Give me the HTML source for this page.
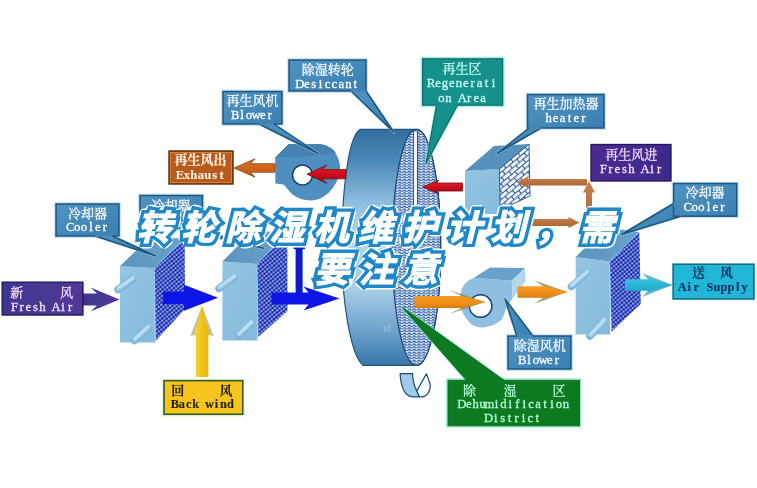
<!DOCTYPE html>
<html lang="zh-CN">
<head>
<meta charset="utf-8">
<title>转轮除湿机维护计划，需要注意</title>
<style>
html,body{margin:0;padding:0;background:#fff;}
body{width:757px;height:488px;overflow:hidden;font-family:"Liberation Sans",sans-serif;}
svg{display:block;}
</style>
</head>
<body>
<svg width="757" height="488" viewBox="0 0 757 488" font-family="'Liberation Serif', serif" role="img" aria-label="转轮除湿机维护计划，需要注意">
<defs>
<filter id="soft" x="-2%" y="-2%" width="104%" height="104%"><feGaussianBlur stdDeviation="0.55"/></filter>
<filter id="soft2" x="-5%" y="-5%" width="110%" height="110%"><feGaussianBlur stdDeviation="0.35"/></filter>
<linearGradient id="gBlue" x1="0" y1="0" x2="1" y2="1"><stop offset="0" stop-color="#4f93c2"/><stop offset="1" stop-color="#3a7fb0"/></linearGradient>
<linearGradient id="gPurple" x1="0" y1="0" x2="1" y2="0"><stop offset="0" stop-color="#403690"/><stop offset="1" stop-color="#523897"/></linearGradient>
<linearGradient id="gPurple2" x1="0" y1="0" x2="1" y2="0"><stop offset="0" stop-color="#4b2a92"/><stop offset="1" stop-color="#3d2a8c"/></linearGradient>
<linearGradient id="gRim" x1="0" y1="0" x2="0" y2="1">
 <stop offset="0" stop-color="#336e9e"/><stop offset=".13" stop-color="#4a87b8"/><stop offset=".3" stop-color="#8bbbde"/><stop offset=".45" stop-color="#b1d5ec"/><stop offset=".68" stop-color="#a6cce6"/><stop offset=".85" stop-color="#6ea3cc"/><stop offset="1" stop-color="#3876a8"/></linearGradient>
<linearGradient id="gFront" x1="0" y1="0" x2="1" y2="1"><stop offset="0" stop-color="#93c6e3"/><stop offset="1" stop-color="#86badb"/></linearGradient>
<linearGradient id="gTop" x1="0" y1="0" x2="1" y2="0"><stop offset="0" stop-color="#5a95bf"/><stop offset="1" stop-color="#69a1c9"/></linearGradient>
<linearGradient id="gRed" x1="0" y1="0" x2="0" y2="1"><stop offset="0" stop-color="#e0202c"/><stop offset=".5" stop-color="#d0101c"/><stop offset="1" stop-color="#8c0a12"/></linearGradient>
<linearGradient id="gOrange" x1="0" y1="0" x2="0" y2="1"><stop offset="0" stop-color="#f6a02a"/><stop offset=".6" stop-color="#f08c14"/><stop offset="1" stop-color="#c9780f"/></linearGradient>
<linearGradient id="gExh" x1="0" y1="0" x2="0" y2="1"><stop offset="0" stop-color="#da7024"/><stop offset="1" stop-color="#c05a18"/></linearGradient>
<linearGradient id="gYellow" x1="0" y1="0" x2="1" y2="0"><stop offset="0" stop-color="#f5d23a"/><stop offset=".5" stop-color="#f2c418"/><stop offset="1" stop-color="#e3b410"/></linearGradient>
<linearGradient id="gBrown" x1="0" y1="0" x2="0" y2="1"><stop offset="0" stop-color="#c98250"/><stop offset="1" stop-color="#a85f2c"/></linearGradient>
<linearGradient id="gCyan" x1="0" y1="0" x2="0" y2="1"><stop offset="0" stop-color="#3cc4e0"/><stop offset="1" stop-color="#1aa6c8"/></linearGradient>
<pattern id="pMesh" width="3.15" height="3.15" patternUnits="userSpaceOnUse" patternTransform="rotate(-40)">
 <rect width="3.15" height="3.15" fill="#b4caff"/>
 <circle cx="1.575" cy="1.575" r="1.46" fill="#0a1a9c"/><circle cx="1.45" cy="1.1" r=".5" fill="#3352dc"/>
</pattern>
<pattern id="pWave" width="4.8" height="2.7" patternUnits="userSpaceOnUse">
 <rect width="4.8" height="2.7" fill="#dfedf9"/>
 <path d="M0 1.85 Q1.2 .1 2.4 1.85 T4.8 1.85" fill="none" stroke="#1c4a96" stroke-width="1.1"/>
</pattern>
<pattern id="pBrick" width="9.4" height="8.4" patternUnits="userSpaceOnUse" patternTransform="rotate(-40)">
 <rect width="9.4" height="8.4" fill="#f2f8fd"/>
 <path d="M0 .5H9.4M0 4.7H9.4M2.3 .5V4.7M7 4.7V8.9" fill="none" stroke="#1d4a8c" stroke-width="1"/>
</pattern>
</defs>
<rect width="757" height="488" fill="#fff"/>
<g filter="url(#soft)">
<path d="M416.5 129.4 L360 129.4 C351 134.4 343 170 341.3 247.4 C342 300 350 354 363 365.4 L416.5 365.4 A24.2 118 0 0 0 416.5 129.4Z" fill="url(#gRim)" stroke="#1f5482" stroke-width="1.2"/>
<ellipse cx="416.5" cy="247.4" rx="24.2" ry="118" fill="url(#pWave)" stroke="#1b447a" stroke-width="1.2"/>
<rect x="413.6" y="130.9" width="3.8" height="118" fill="#fff" stroke="#1b447a" stroke-width=".9"/>
<text x="383" y="332" font-size="10" fill="#fff" opacity=".3" font-family="'Liberation Sans', sans-serif">xt</text>
<path d="M400.1 373.7 L412.6 373.7 C412.8 380 414 386 416.8 390.9 C417.5 393 418.5 395 419.5 396.8 L413 396.8 C405 396.5 401 388 400.1 373.7Z" fill="#9fcbe8" stroke="#1a4a70" stroke-width="1.2" stroke-linejoin="round"/>
<path d="M416.8 390.9 L426.4 373.8 C427.5 376.5 429 380 430 384 C431 390 428 396 422 396.9 L419.5 396.8 C418.5 395 417.5 393 416.8 390.9Z" fill="#f4fafe" stroke="#1a4a70" stroke-width="1.2" stroke-linejoin="round"/>
<path d="M275.2 157.6 L288.7 144 L318 144 C328 144.5 336 150 339.2 161.3 C341.5 170 339 181 330.6 190.8 C325 197 318 200.4 310.9 200.4 C302 200.4 295 197 291.2 193.3 L283.5 184.6 L275.4 183.4Z" fill="#4f8fc0"/>
<path d="M275.2 157.6 L288.7 144 L318 144 C326 144.5 332 147.5 336 153 L300 157.5Z" fill="#4582b2"/>
<circle cx="302.5" cy="175" r="10" fill="#fff" stroke="#17406e" stroke-width="1.5"/>
<polygon points="275,163.7 250.5,163.7 255,158.8 234,168 255,177.2 250.5,172.3 275,172.3" fill="url(#gExh)" stroke="#8a4514" stroke-width="0.8" stroke-linejoin="round" />
<polygon points="346,169.6 322,169.6 327,165 307,174.2 327,183.4 322,178.8 346,178.8" fill="url(#gRed)" stroke="#7d0c14" stroke-width="0.8" stroke-linejoin="round" />
<polygon points="462.5,183 436,183 439,180 422.5,187 439,194 436,191 462.5,191" fill="url(#gRed)" stroke="#7d0c14" stroke-width="0.8" stroke-linejoin="round" />
<polygon points="465,171 499.5,169 499.8,214 465,214" fill="url(#gFront)" />
<polygon points="465,171 494,146 529,144 499.5,169" fill="#5690bd" />
<polygon points="499.5,169 529,144 530,196 500,210" fill="url(#pBrick)" stroke="#1d4a8c" stroke-width="0.9" stroke-linejoin="round" />
<polygon points="587,178.9 527.5,178.9 527.5,176.9 516,182.2 527.5,187.5 527.5,185.5 587,185.5" fill="url(#gBrown)" />
<polygon points="531,218.9 568.5,218.9 568.5,216.9 579.5,222.5 568.5,228.1 568.5,226.1 531,226.1" fill="url(#gBrown)" />
<polygon points="586,226 586,192.5 583,192.5 589,181 595,192.5 592,192.5 592,226" fill="url(#gBrown)" />
<polygon points="83,293.5 97,293.5 90.5,287.5 119.5,299.5 90.5,311.5 97,305.5 83,305.5" fill="url(#gPurple)" />
<polygon points="119.9,266.3 154.3,268.1 155,342.5 120,342.5" fill="url(#gFront)" />
<polygon points="119.9,266.3 150.3,236.8 184.7,238.6 154.3,268.1" fill="url(#gTop)" />
<polygon points="154.3,268.1 184.7,238.6 185,309 155.5,341" fill="url(#pMesh)" />
<polyline points="155.5,341 154.3,268.1 184.7,238.6" fill="none" stroke="#9fd0ff" stroke-width=".9" opacity=".85"/>
<line x1="118" y1="289.5" x2="132.5" y2="279.5" stroke="#80b6d8" stroke-width="7.6" stroke-linecap="round"/>
<line x1="118.4" y1="288.2" x2="132.9" y2="278.2" stroke="#a9d4ee" stroke-width="4.4" stroke-linecap="round"/>
<line x1="118.8" y1="287.5" x2="133.3" y2="277.5" stroke="#c3e3f5" stroke-width="1.5" stroke-linecap="round"/>
<line x1="134.5" y1="340.5" x2="148" y2="328" stroke="#80b6d8" stroke-width="7.6" stroke-linecap="round"/>
<line x1="134.9" y1="339.2" x2="148.4" y2="326.7" stroke="#a9d4ee" stroke-width="4.4" stroke-linecap="round"/>
<line x1="135.3" y1="338.5" x2="148.8" y2="326" stroke="#c3e3f5" stroke-width="1.5" stroke-linecap="round"/>
<polygon points="222.5,261.6 257,264 257.5,340.6 222.3,340.6" fill="url(#gFront)" />
<polygon points="222.5,261.6 252.8,230.6 287.3,233 257,264" fill="url(#gTop)" />
<polygon points="257,264 287.3,233 287.5,311 258,337" fill="url(#pMesh)" />
<polyline points="258,337 257,264 287.3,233" fill="none" stroke="#9fd0ff" stroke-width=".9" opacity=".85"/>
<line x1="219" y1="288.5" x2="234" y2="277.5" stroke="#80b6d8" stroke-width="7.6" stroke-linecap="round"/>
<line x1="219.4" y1="287.2" x2="234.4" y2="276.2" stroke="#a9d4ee" stroke-width="4.4" stroke-linecap="round"/>
<line x1="219.8" y1="286.5" x2="234.8" y2="275.5" stroke="#c3e3f5" stroke-width="1.5" stroke-linecap="round"/>
<line x1="238.5" y1="335.5" x2="251" y2="323.5" stroke="#80b6d8" stroke-width="7.6" stroke-linecap="round"/>
<line x1="238.9" y1="334.2" x2="251.4" y2="322.2" stroke="#a9d4ee" stroke-width="4.4" stroke-linecap="round"/>
<line x1="239.3" y1="333.5" x2="251.8" y2="321.5" stroke="#c3e3f5" stroke-width="1.5" stroke-linecap="round"/>
<polygon points="575.7,256.9 609.6,261.6 610,334.5 575.6,334.5" fill="url(#gFront)" />
<polygon points="575.7,256.9 605.4,227.2 639.3,231.9 609.6,261.6" fill="url(#gTop)" />
<polygon points="609.6,261.6 639.3,231.9 640.8,303.8 611.3,332" fill="url(#pMesh)" />
<polyline points="611.3,332 609.6,261.6 639.3,231.9" fill="none" stroke="#9fd0ff" stroke-width=".9" opacity=".85"/>
<line x1="571.5" y1="286.5" x2="587" y2="273" stroke="#80b6d8" stroke-width="7.6" stroke-linecap="round"/>
<line x1="571.9" y1="285.2" x2="587.4" y2="271.7" stroke="#a9d4ee" stroke-width="4.4" stroke-linecap="round"/>
<line x1="572.3" y1="284.5" x2="587.8" y2="271" stroke="#c3e3f5" stroke-width="1.5" stroke-linecap="round"/>
<line x1="590" y1="336" x2="604" y2="321" stroke="#80b6d8" stroke-width="7.6" stroke-linecap="round"/>
<line x1="590.4" y1="334.7" x2="604.4" y2="319.7" stroke="#a9d4ee" stroke-width="4.4" stroke-linecap="round"/>
<line x1="590.8" y1="334" x2="604.8" y2="319" stroke="#c3e3f5" stroke-width="1.5" stroke-linecap="round"/>
<polygon points="163,291.6 184,291.6 184,284.8 218,297.8 184,310.8 184,304 163,304" fill="#0a18e6" />
<polygon points="271.5,292.4 308.5,292.4 303.5,286.5 339.5,298.5 303.5,310.5 308.5,304.6 271.5,304.6" fill="#0a18e6" />
<rect x="295.6" y="247.5" width="7" height="46" fill="#0b1bc6"/>
<rect x="293.6" y="246.6" width="11.4" height="2.6" fill="#0b1bc6"/>
<polygon points="195.7,334.8 190.2,336.3 202,305.8 213.8,336.3 208.3,334.8" fill="#b3b68c" opacity=".8"/>
<polygon points="195.7,377 195.7,334.8 194.212,335.4 202,305.8 209.788,335.4 208.3,334.8 208.3,377" fill="url(#gYellow)" />
<path d="M473.8 277.7 C466 281 462.5 286 461.3 291 C458.5 300 459 312 470.7 323.8 C476 327.5 482 328 487 326.8 C493 325.5 498 323 501.5 319.7 C503.5 316 505 313 505.6 309.4 L512.7 298 L511.7 280.7Z" fill="#8ebfe0"/>
<polygon points="473.8,277.7 490.2,267.4 525,268 511.7,280.7" fill="#6ba1ca" />
<polygon points="511.7,280.7 525,268 525.6,281 513,298" fill="#b3d6ec" />
<circle cx="480.6" cy="306" r="11.3" fill="#fff" stroke="#17406e" stroke-width="1.4"/>
<polygon points="461.5,296 449,290 485.5,302 449,314 461.5,308" fill="#93864c" opacity=".8"/>
<polygon points="414.5,296 461.5,296 455.875,294.56 485.5,302 455.875,309.44 461.5,308 414.5,308" fill="url(#gOrange)" />
<polygon points="543.5,286.2 534,280.3 567.5,292 534,303.7 543.5,297.8" fill="#93864c" opacity=".8"/>
<polygon points="517.5,286.2 543.5,286.2 539.225,284.746 567.5,292 539.225,299.254 543.5,297.8 517.5,297.8" fill="url(#gOrange)" />
<polygon points="648.5,279.2 642,273 672.5,285 642,297 648.5,290.8" fill="#3ea3bd" opacity=".8"/>
<polygon points="625,279.2 648.5,279.2 645.575,277.56 672.5,285 645.575,292.44 648.5,290.8 625,290.8" fill="url(#gCyan)" />
<rect x="138.8" y="194.3" width="64.9" height="35.9" fill="none" stroke="#bfe0f3" stroke-width="1.6" opacity=".8"/>
<polygon points="180,229 196,229 263.5,248.2" fill="none" stroke="#bfe0f3" stroke-width="2.6" stroke-linejoin="round" opacity=".7"/>
<polygon points="180,229 196,229 263.5,248.2" fill="url(#gBlue)" stroke="#1c5680" stroke-width="1.5" stroke-linejoin="round" />
<rect x="140" y="195.5" width="62.5" height="33.5" fill="url(#gBlue)" stroke="#1c5680" stroke-width="1.5"/>
<line x1="180" y1="229" x2="196" y2="229" stroke="#4489b9" stroke-width="2.1" stroke-linecap="butt"/>
<rect x="287.8" y="58.8" width="79.4" height="33.4" fill="none" stroke="#bfe0f3" stroke-width="1.6" opacity=".8"/>
<polygon points="351,91 366,91 394,132.5" fill="none" stroke="#bfe0f3" stroke-width="2.6" stroke-linejoin="round" opacity=".7"/>
<polygon points="351,91 366,91 394,132.5" fill="url(#gBlue)" stroke="#1c5680" stroke-width="1.5" stroke-linejoin="round" />
<rect x="289" y="60" width="77" height="31" fill="url(#gBlue)" stroke="#1c5680" stroke-width="1.5"/>
<line x1="351" y1="91" x2="366" y2="91" stroke="#4489b9" stroke-width="2.1" stroke-linecap="butt"/>
<rect x="221.8" y="90.3" width="61.4" height="34.9" fill="none" stroke="#bfe0f3" stroke-width="1.6" opacity=".8"/>
<polygon points="259,124 274,124 319,154" fill="none" stroke="#bfe0f3" stroke-width="2.6" stroke-linejoin="round" opacity=".7"/>
<polygon points="259,124 274,124 319,154" fill="url(#gBlue)" stroke="#1c5680" stroke-width="1.5" stroke-linejoin="round" />
<rect x="223" y="91.5" width="59" height="32.5" fill="url(#gBlue)" stroke="#1c5680" stroke-width="1.5"/>
<line x1="259" y1="124" x2="274" y2="124" stroke="#4489b9" stroke-width="2.1" stroke-linecap="butt"/>
<rect x="526.3" y="93.3" width="78.9" height="35.9" fill="none" stroke="#bfe0f3" stroke-width="1.6" opacity=".8"/>
<polygon points="529,128 541,128 497,153.5" fill="none" stroke="#bfe0f3" stroke-width="2.6" stroke-linejoin="round" opacity=".7"/>
<polygon points="529,128 541,128 497,153.5" fill="url(#gBlue)" stroke="#1c5680" stroke-width="1.5" stroke-linejoin="round" />
<rect x="527.5" y="94.5" width="76.5" height="33.5" fill="url(#gBlue)" stroke="#1c5680" stroke-width="1.5"/>
<line x1="529" y1="128" x2="541" y2="128" stroke="#4489b9" stroke-width="2.1" stroke-linecap="butt"/>
<rect x="421.4" y="57.6" width="82.4" height="48.8" fill="none" stroke="#8ceae6" stroke-width="1.6" opacity=".8"/>
<polygon points="436.5,105.2 457.5,105.2 426,163.5" fill="none" stroke="#8ceae6" stroke-width="2.6" stroke-linejoin="round" opacity=".7"/>
<polygon points="436.5,105.2 457.5,105.2 426,163.5" fill="#17908a" stroke="#0e6c68" stroke-width="1.2" stroke-linejoin="round" />
<rect x="422.6" y="58.8" width="80" height="46.4" fill="#17908a" stroke="#0e6c68" stroke-width="1.2"/>
<line x1="436.5" y1="105.2" x2="457.5" y2="105.2" stroke="#17908a" stroke-width="1.7999999999999998" stroke-linecap="butt"/>
<rect x="169" y="151" width="64" height="33" fill="#b85a1c" stroke="#5a2808" stroke-width="1.4"/>
<rect x="170.5" y="152.5" width="61" height="30" fill="none" stroke="#e9a35c" stroke-width=".8" opacity=".7"/>
<rect x="591" y="144.5" width="80" height="36.5" fill="url(#gPurple2)" stroke="#24145e" stroke-width="1.3"/>
<rect x="54.8" y="202.8" width="65.4" height="34.4" fill="none" stroke="#bfe0f3" stroke-width="1.6" opacity=".8"/>
<polygon points="95,236 112.5,236 156,256" fill="none" stroke="#bfe0f3" stroke-width="2.6" stroke-linejoin="round" opacity=".7"/>
<polygon points="95,236 112.5,236 156,256" fill="url(#gBlue)" stroke="#1c5680" stroke-width="1.5" stroke-linejoin="round" />
<rect x="56" y="204" width="63" height="32" fill="url(#gBlue)" stroke="#1c5680" stroke-width="1.5"/>
<line x1="95" y1="236" x2="112.5" y2="236" stroke="#4489b9" stroke-width="2.1" stroke-linecap="butt"/>
<rect x="672.4" y="182.3" width="65.6" height="35.1" fill="none" stroke="#bfe0f3" stroke-width="1.6" opacity=".8"/>
<polygon points="673.6,203.5 681,216.2 621.5,234.5" fill="none" stroke="#bfe0f3" stroke-width="2.6" stroke-linejoin="round" opacity=".7"/>
<polygon points="673.6,203.5 681,216.2 621.5,234.5" fill="url(#gBlue)" stroke="#1c5680" stroke-width="1.5" stroke-linejoin="round" />
<rect x="673.6" y="183.5" width="63.2" height="32.7" fill="url(#gBlue)" stroke="#1c5680" stroke-width="1.5"/>
<line x1="673.6" y1="203.5" x2="681" y2="216.2" stroke="#4489b9" stroke-width="2.1" stroke-linecap="butt"/>
<rect x="2.2" y="282.2" width="80.7" height="32.8" fill="url(#gPurple)" stroke="#1c1a5c" stroke-width="1.4"/>
<rect x="164" y="380.6" width="78.8" height="33.7" fill="#f6c41a" stroke="#2f5a20" stroke-width="1.6"/>
<rect x="162.4" y="379" width="82" height="37" fill="none" stroke="#d6e8bc" stroke-width="1.2" opacity=".5"/>
<rect x="673.1" y="264.2" width="80.9" height="34.8" fill="#20b6d7" stroke="#0a6888" stroke-width="1.5"/>
<rect x="506.8" y="334.8" width="65.4" height="35.4" fill="none" stroke="#bfe0f3" stroke-width="1.6" opacity=".8"/>
<polygon points="516.8,336 533,336 505,299" fill="none" stroke="#bfe0f3" stroke-width="2.6" stroke-linejoin="round" opacity=".7"/>
<polygon points="516.8,336 533,336 505,299" fill="url(#gBlue)" stroke="#1c5680" stroke-width="1.5" stroke-linejoin="round" />
<rect x="508" y="336" width="63" height="33" fill="url(#gBlue)" stroke="#1c5680" stroke-width="1.5"/>
<line x1="516.8" y1="336" x2="533" y2="336" stroke="#4489b9" stroke-width="2.1" stroke-linecap="butt"/>
<rect x="446.8" y="379.1" width="134" height="47.9" fill="none" stroke="#8fead2" stroke-width="1.6" opacity=".8"/>
<polygon points="466.5,380.3 504,380.3 402,307" fill="none" stroke="#8fead2" stroke-width="2.6" stroke-linejoin="round" opacity=".7"/>
<polygon points="466.5,380.3 504,380.3 402,307" fill="#0b7a22" stroke="#0a6e20" stroke-width="1" stroke-linejoin="round" />
<rect x="448" y="380.3" width="131.6" height="45.5" fill="#0b7a22" stroke="#0a6e20" stroke-width="1"/>
<line x1="466.5" y1="380.3" x2="504" y2="380.3" stroke="#0b7a22" stroke-width="1.6" stroke-linecap="butt"/>
</g>
<g filter="url(#soft2)">
<text x="327.7" y="73.5" fill="#fff" stroke="#fff" stroke-width=".25" font-size="13" text-anchor="middle" font-family="'Liberation Serif', 'Noto Serif CJK SC', serif">除湿转轮</text>
<text x="299.8 306.7 313.6 320.6 327.5 334.4 341.4 348.3 355.2" y="87.5" fill="#fff" stroke="#fff" stroke-width=".28" font-size="12.7" font-weight="normal" text-anchor="middle">Desiccant</text>
<text x="252.5" y="104.8" fill="#fff" stroke="#fff" stroke-width=".25" font-size="13" text-anchor="middle" font-family="'Liberation Serif', 'Noto Serif CJK SC', serif">再生风机</text>
<text x="235.2 242.1 249.0 256.0 262.9 269.8" y="119.3" fill="#fff" stroke="#fff" stroke-width=".28" font-size="12.7" font-weight="normal" text-anchor="middle">Blower</text>
<text x="462" y="72.8" fill="#c9fff5" stroke="#c9fff5" stroke-width=".25" font-size="13" text-anchor="middle" font-family="'Liberation Serif', 'Noto Serif CJK SC', serif">再生区</text>
<text x="431.1 438.0 445.0 451.9 458.8 465.8 472.7 479.6 486.6 493.5" y="87.1" fill="#c9fff5" stroke="#c9fff5" stroke-width=".28" font-size="12.7" font-weight="normal" text-anchor="middle">Regenerati</text>
<text x="441.5 448.4 455.4 462.3 469.2 476.2 483.1" y="101.6" fill="#c9fff5" stroke="#c9fff5" stroke-width=".28" font-size="12.7" font-weight="normal" text-anchor="middle">on Area</text>
<text x="566" y="107.8" fill="#fff" stroke="#fff" stroke-width=".25" font-size="13" text-anchor="middle" font-family="'Liberation Serif', 'Noto Serif CJK SC', serif">再生加热器</text>
<text x="548.7 555.6 562.5 569.5 576.4 583.3" y="122.3" fill="#fff" stroke="#fff" stroke-width=".28" font-size="12.7" font-weight="normal" text-anchor="middle">heater</text>
<text x="200.5" y="164.3" fill="#fbeee0" stroke="#fbeee0" stroke-width=".25" font-size="13" font-weight="bold" text-anchor="middle" font-family="'Liberation Serif', 'Noto Serif CJK SC', serif">再生风出</text>
<text x="180.0 186.9 193.9 200.8 207.7 214.7 221.6" y="178.6" fill="#fbeee0" stroke="#fbeee0" stroke-width=".15" font-size="12.7" font-weight="bold" text-anchor="middle">Exhaust</text>
<text x="631.3" y="158.5" fill="#f8e2f6" stroke="#f8e2f6" stroke-width=".25" font-size="13" text-anchor="middle" font-family="'Liberation Serif', 'Noto Serif CJK SC', serif">再生风进</text>
<text x="603.6 610.5 617.4 624.4 631.3 638.2 645.2 652.1 659.0" y="172.6" fill="#f8e2f6" stroke="#f8e2f6" stroke-width=".28" font-size="12.7" font-weight="normal" text-anchor="middle">Fresh Air</text>
<text x="87.6" y="217.8" fill="#fff" stroke="#fff" stroke-width=".25" font-size="13" text-anchor="middle" font-family="'Liberation Serif', 'Noto Serif CJK SC', serif">冷却器</text>
<text x="70.2 77.1 84.0 91.0 97.9 104.8" y="231" fill="#fff" stroke="#fff" stroke-width=".28" font-size="12.7" font-weight="normal" text-anchor="middle">Cooler</text>
<text x="171" y="209.5" fill="#fff" stroke="#fff" stroke-width=".25" font-size="13" text-anchor="middle" font-family="'Liberation Serif', 'Noto Serif CJK SC', serif">冷却器</text>
<text x="705" y="197" fill="#fff" stroke="#fff" stroke-width=".25" font-size="13" text-anchor="middle" font-family="'Liberation Serif', 'Noto Serif CJK SC', serif">冷却器</text>
<text x="687.7 694.6 701.5 708.5 715.4 722.3" y="210.6" fill="#fff" stroke="#fff" stroke-width=".28" font-size="12.7" font-weight="normal" text-anchor="middle">Cooler</text>
<text x="16.8 66.5" y="297" fill="#f6e6f6" stroke="#f6e6f6" stroke-width=".25" font-size="13" text-anchor="middle" font-family="'Liberation Serif', 'Noto Serif CJK SC', serif">新风</text>
<text x="14.6 21.5 28.4 35.4 42.3 49.2 56.2 63.1 70.0" y="310.9" fill="#f6e6f6" stroke="#f6e6f6" stroke-width=".28" font-size="12.7" font-weight="normal" text-anchor="middle">Fresh Air</text>
<text x="177.8 226" y="395.3" fill="#1c2418" stroke="#1c2418" stroke-width=".1" font-size="13" font-weight="bold" text-anchor="middle" font-family="'Liberation Serif', 'Noto Serif CJK SC', serif">回风</text>
<text x="174.9 181.8 188.7 195.7 202.6 209.5 216.5 223.4 230.3" y="408.2" fill="#1c2418" stroke="#1c2418" stroke-width=".15" font-size="12.3" font-weight="bold" text-anchor="middle">Back wind</text>
<text x="698.5 726.4" y="277.4" fill="#0e3566" stroke="#0e3566" stroke-width=".1" font-size="13" font-weight="bold" text-anchor="middle" font-family="'Liberation Serif', 'Noto Serif CJK SC', serif">送风</text>
<text x="682.3 689.2 696.2 703.1 710.0 717.0 723.9 730.8 737.8 744.7" y="291.4" fill="#0e3566" stroke="#0e3566" stroke-width=".15" font-size="12.3" font-weight="bold" text-anchor="middle">Air Supply</text>
<text x="539.8" y="349.6" fill="#fff" stroke="#fff" stroke-width=".25" font-size="13" text-anchor="middle" font-family="'Liberation Serif', 'Noto Serif CJK SC', serif">除湿风机</text>
<text x="522.2 529.1 536.0 543.0 549.9 556.8" y="363.7" fill="#fff" stroke="#fff" stroke-width=".28" font-size="12.7" font-weight="normal" text-anchor="middle">Blower</text>
<text x="469.4 510 559" y="395" fill="#b8ffd9" stroke="#b8ffd9" stroke-width=".25" font-size="13" text-anchor="middle" font-family="'Liberation Serif', 'Noto Serif CJK SC', serif">除湿区</text>
<text x="461.8 468.8 475.7 482.6 489.5 496.5 503.4 510.3 517.3 524.2 531.1 538.1 545.0 551.9 558.8 565.8" y="408.2" fill="#b8ffd9" stroke="#b8ffd9" stroke-width=".28" font-size="12.7" font-weight="normal" text-anchor="middle">Dehumidification</text>
<text x="488.7 495.7 502.6 509.5 516.5 523.4 530.3 537.3" y="422" fill="#b8ffd9" stroke="#b8ffd9" stroke-width=".28" font-size="12.7" font-weight="normal" text-anchor="middle">District</text>
</g>
<g aria-label="转轮除湿机维护计划，需要注意" stroke-linejoin="miter" stroke-miterlimit="2" font-family="'Liberation Sans', 'Noto Sans CJK SC', sans-serif" font-size="35" font-weight="bold" font-style="italic"><title>转轮除湿机维护计划，需要注意</title>
<text x="137 181.2 225.4 269.6 313.8 358 402.2 446.4 490.6 534.8 579" y="240" fill="none" stroke="#fff" stroke-width="11" stroke-linejoin="round">转轮除湿机维护计划，需</text>
<text x="314.5 358.7 402.9" y="282" fill="none" stroke="#fff" stroke-width="11" stroke-linejoin="round">要注意</text>
<text x="137 181.2 225.4 269.6 313.8 358 402.2 446.4 490.6 534.8 579" y="240" fill="none" stroke="#2088c9" stroke-width="7.8">转轮除湿机维护计划，需</text>
<text x="314.5 358.7 402.9" y="282" fill="none" stroke="#2088c9" stroke-width="7.8">要注意</text>
<text x="137 181.2 225.4 269.6 313.8 358 402.2 446.4 490.6 534.8 579" y="240" fill="#fff" stroke="#fff" stroke-width="1">转轮除湿机维护计划，需</text>
<text x="314.5 358.7 402.9" y="282" fill="#fff" stroke="#fff" stroke-width="1">要注意</text>
</g>
</svg>
</body>
</html>
